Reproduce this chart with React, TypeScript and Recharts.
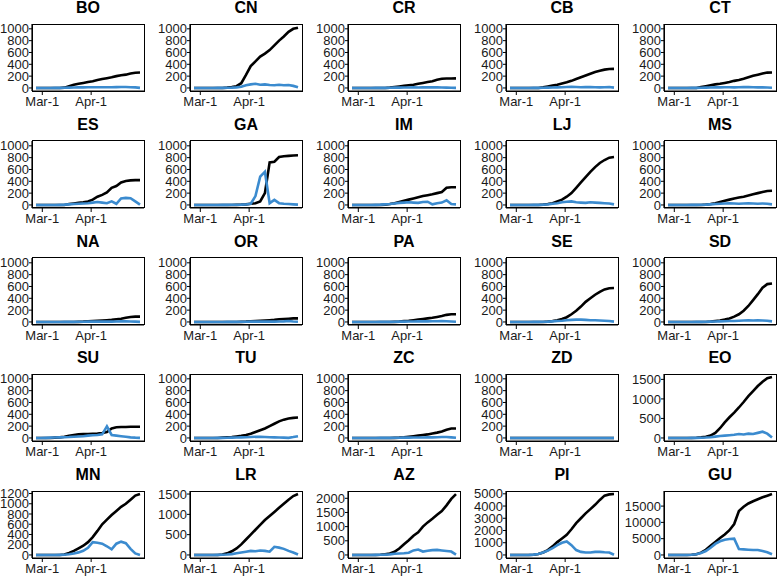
import React from "react";
import { LineChart, Line, XAxis, YAxis } from "recharts";

// day offsets from Mar-1, one sample every 3 days
const days = [-4, -1, 2, 5, 8, 11, 14, 17, 20, 23, 26, 29, 32, 35, 38, 41, 44, 47, 50, 53, 56, 59, 62];
const xTicks = [0, 31];
const xTickLabels = ["Mar-1", "Apr-1"];

const ticks1000 = [0, 200, 400, 600, 800, 1000];
const ticks1200 = [0, 200, 400, 600, 800, 1000, 1200];
const ticks1500 = [0, 500, 1000, 1500];
const ticks2000 = [0, 500, 1000, 1500, 2000];
const ticks5000 = [0, 1000, 2000, 3000, 4000, 5000];
const ticks15000 = [0, 5000, 10000, 15000];

const boTotal = [0, 0, 0, 0, 0, 0, 5, 30, 55, 70, 85, 100, 115, 135, 150, 165, 180, 200, 215, 225, 245, 258, 262];
const boDaily = [0, 0, 0, 0, 1, 2, 3, 5, 8, 10, 10, 12, 12, 13, 12, 12, 12, 14, 15, 15, 13, 10, 2];
const cnTotal = [0, 0, 0, 0, 0, 0, 0, 5, 15, 30, 80, 220, 370, 450, 530, 580, 640, 720, 800, 870, 950, 1000, 1020];
const cnDaily = [0, 0, 0, 0, 0, 1, 2, 3, 5, 10, 20, 45, 60, 70, 55, 60, 50, 45, 55, 45, 50, 35, 10];
const crTotal = [0, 0, 0, 0, 0, 0, 0, 0, 5, 15, 25, 35, 45, 55, 70, 85, 100, 115, 140, 155, 160, 160, 162];
const crDaily = [0, 0, 0, 0, 0, 1, 1, 2, 3, 5, 6, 8, 8, 9, 8, 10, 10, 12, 10, 8, 6, 4, 2];
const cbTotal = [0, 0, 0, 0, 0, 0, 0, 10, 25, 40, 55, 75, 95, 120, 150, 180, 210, 240, 270, 290, 310, 320, 322];
const cbDaily = [0, 0, 0, 0, 0, 1, 2, 4, 6, 8, 10, 12, 15, 18, 15, 12, 14, 15, 12, 10, 12, 15, 5];
const ctTotal = [0, 0, 0, 0, 0, 0, 0, 15, 30, 45, 60, 70, 85, 100, 120, 135, 155, 180, 205, 225, 245, 260, 262];
const ctDaily = [0, 0, 0, 0, 0, 1, 2, 4, 6, 8, 10, 10, 12, 12, 10, 12, 14, 15, 12, 10, 10, 8, 3];

const esTotal = [0, 0, 0, 0, 0, 0, 0, 15, 25, 35, 45, 60, 90, 140, 170, 210, 290, 320, 380, 405, 415, 420, 420];
const esDaily = [0, 0, 0, 0, 0, 2, 5, 10, 15, 20, 25, 30, 40, 50, 40, 30, 60, 20, 110, 120, 115, 60, 5];
const gaTotal = [0, 0, 0, 0, 0, 0, 0, 0, 0, 2, 5, 10, 20, 30, 60, 200, 720, 730, 810, 825, 830, 835, 840];
const gaDaily = [0, 0, 0, 0, 0, 0, 1, 2, 3, 4, 5, 8, 20, 150, 480, 560, 30, 85, 30, 20, 15, 10, 5];
const imTotal = [0, 0, 0, 0, 0, 0, 0, 5, 15, 30, 50, 70, 90, 110, 130, 150, 165, 180, 200, 220, 290, 300, 300];
const imDaily = [0, 0, 0, 0, 0, 2, 5, 10, 15, 25, 35, 40, 45, 40, 35, 50, 55, 10, 30, 40, 80, 15, 10];
const ljTotal = [0, 0, 0, 0, 0, 0, 0, 5, 15, 30, 60, 90, 140, 200, 290, 380, 470, 560, 640, 710, 760, 800, 810];
const ljDaily = [0, 0, 0, 0, 0, 1, 2, 5, 10, 20, 30, 45, 55, 60, 45, 40, 35, 45, 40, 35, 30, 25, 10];
const msTotal = [0, 0, 0, 0, 0, 0, 0, 0, 5, 15, 30, 50, 70, 90, 110, 125, 140, 160, 180, 200, 220, 235, 240];
const msDaily = [0, 0, 0, 0, 0, 1, 2, 3, 5, 10, 15, 20, 25, 30, 25, 20, 25, 30, 25, 20, 25, 20, 10];

const naTotal = [0, 0, 0, 0, 0, 0, 0, 0, 0, 2, 5, 10, 15, 20, 25, 30, 35, 45, 55, 70, 85, 90, 90];
const naDaily = [0, 0, 0, 0, 0, 0, 1, 1, 2, 3, 4, 5, 5, 6, 5, 5, 6, 8, 10, 10, 8, 5, 2];
const orTotal = [0, 0, 0, 0, 0, 0, 0, 0, 0, 0, 2, 5, 10, 15, 20, 25, 30, 35, 45, 50, 55, 60, 60];
const orDaily = [0, 0, 0, 0, 0, 0, 0, 1, 1, 2, 3, 4, 5, 5, 5, 5, 5, 6, 8, 10, 15, 8, 3];
const paTotal = [0, 0, 0, 0, 0, 0, 0, 0, 0, 2, 5, 15, 20, 30, 40, 50, 60, 70, 85, 100, 120, 130, 130];
const paDaily = [0, 0, 0, 0, 0, 0, 1, 1, 2, 3, 5, 6, 8, 8, 10, 10, 10, 12, 12, 15, 12, 8, 3];
const seTotal = [0, 0, 0, 0, 0, 0, 0, 0, 5, 15, 30, 50, 80, 130, 190, 260, 340, 400, 460, 510, 550, 570, 575];
const seDaily = [0, 0, 0, 0, 0, 1, 2, 3, 5, 10, 15, 20, 30, 35, 40, 40, 35, 30, 30, 25, 20, 15, 5];
const sdTotal = [0, 0, 0, 0, 0, 0, 0, 0, 0, 5, 15, 25, 40, 60, 90, 130, 190, 270, 370, 470, 580, 640, 650];
const sdDaily = [0, 0, 0, 0, 0, 0, 1, 2, 3, 5, 8, 10, 12, 15, 15, 20, 25, 30, 25, 30, 25, 20, 10];

const suTotal = [0, 0, 0, 0, 5, 10, 20, 35, 50, 60, 65, 65, 70, 75, 85, 100, 160, 180, 185, 185, 190, 190, 190];
const suDaily = [0, 0, 2, 5, 8, 10, 12, 15, 20, 25, 30, 40, 45, 50, 60, 195, 50, 40, 30, 20, 10, 5, 2];
const tuTotal = [0, 0, 0, 0, 0, 0, 5, 10, 15, 25, 35, 50, 70, 100, 130, 160, 200, 240, 280, 310, 330, 340, 345];
const tuDaily = [0, 0, 0, 0, 0, 1, 2, 4, 6, 8, 10, 12, 15, 20, 18, 15, 12, 10, 8, 5, 2, 15, 30];
const zcTotal = [0, 0, 0, 0, 0, 0, 0, 0, 0, 2, 5, 10, 20, 30, 40, 50, 60, 75, 90, 110, 140, 160, 160];
const zcDaily = [0, 0, 0, 0, 0, 0, 1, 1, 2, 3, 4, 5, 6, 8, 8, 8, 10, 10, 12, 15, 15, 10, 3];
const zdTotal = [0, 0, 0, 0, 0, 0, 0, 0, 0, 0, 0, 0, 0, 0, 0, 0, 0, 0, 0, 0, 0, 0, 0];
const zdDaily = [0, 0, 0, 0, 0, 0, 0, 0, 0, 0, 0, 0, 0, 0, 0, 0, 0, 0, 0, 0, 0, 0, 0];
const eoTotal = [0, 0, 0, 0, 0, 0, 5, 15, 30, 60, 130, 250, 400, 530, 650, 780, 920, 1070, 1200, 1330, 1440, 1530, 1560];
const eoDaily = [0, 0, 0, 0, 0, 1, 3, 5, 10, 20, 35, 50, 60, 70, 80, 100, 90, 110, 100, 130, 160, 110, 10];

const mnTotal = [0, 0, 0, 0, 0, 0, 10, 40, 80, 130, 180, 250, 350, 470, 600, 690, 780, 860, 940, 1000, 1080, 1160, 1190];
const mnDaily = [0, 0, 0, 0, 0, 2, 5, 15, 30, 50, 80, 140, 250, 240, 220, 170, 110, 220, 260, 230, 120, 30, 0];
const lrTotal = [0, 0, 0, 0, 0, 0, 10, 40, 90, 160, 260, 380, 500, 620, 740, 860, 960, 1060, 1160, 1260, 1360, 1450, 1500];
const lrDaily = [0, 0, 0, 0, 0, 2, 5, 10, 20, 40, 60, 80, 100, 90, 110, 100, 80, 200, 180, 150, 100, 60, 10];
const azTotal = [0, 0, 0, 0, 0, 0, 5, 20, 50, 110, 230, 380, 520, 680, 800, 1000, 1150, 1280, 1420, 1550, 1750, 1980, 2150];
const azDaily = [0, 0, 0, 0, 0, 2, 5, 10, 20, 40, 50, 60, 80, 160, 190, 120, 150, 170, 180, 160, 140, 120, 10];
const piTotal = [0, 0, 0, 0, 0, 20, 80, 200, 400, 700, 1050, 1350, 1650, 2100, 2600, 3000, 3400, 3750, 4100, 4500, 4850, 4950, 4980];
const piDaily = [0, 0, 0, 0, 10, 30, 80, 200, 350, 550, 800, 1000, 1100, 800, 400, 250, 200, 200, 250, 250, 220, 200, 20];
const guTotal = [0, 0, 0, 0, 0, 50, 200, 700, 1600, 2800, 4000, 5200, 6300, 7600, 9500, 13500, 14800, 15800, 16500, 17100, 17700, 18200, 18700];
const guDaily = [0, 0, 0, 0, 0, 50, 200, 600, 1200, 2200, 3400, 4200, 4700, 4900, 5000, 1800, 1700, 1600, 1500, 1500, 1200, 800, 200];

// top = largest value the panel's y range has to hold
const panels = [
  { name: "BO", total: boTotal, daily: boDaily, ticks: ticks1000, top: 1030 },
  { name: "CN", total: cnTotal, daily: cnDaily, ticks: ticks1000, top: 1030 },
  { name: "CR", total: crTotal, daily: crDaily, ticks: ticks1000, top: 1030 },
  { name: "CB", total: cbTotal, daily: cbDaily, ticks: ticks1000, top: 1030 },
  { name: "CT", total: ctTotal, daily: ctDaily, ticks: ticks1000, top: 1030 },
  { name: "ES", total: esTotal, daily: esDaily, ticks: ticks1000, top: 1030 },
  { name: "GA", total: gaTotal, daily: gaDaily, ticks: ticks1000, top: 1030 },
  { name: "IM", total: imTotal, daily: imDaily, ticks: ticks1000, top: 1030 },
  { name: "LJ", total: ljTotal, daily: ljDaily, ticks: ticks1000, top: 1030 },
  { name: "MS", total: msTotal, daily: msDaily, ticks: ticks1000, top: 1030 },
  { name: "NA", total: naTotal, daily: naDaily, ticks: ticks1000, top: 1030 },
  { name: "OR", total: orTotal, daily: orDaily, ticks: ticks1000, top: 1030 },
  { name: "PA", total: paTotal, daily: paDaily, ticks: ticks1000, top: 1030 },
  { name: "SE", total: seTotal, daily: seDaily, ticks: ticks1000, top: 1030 },
  { name: "SD", total: sdTotal, daily: sdDaily, ticks: ticks1000, top: 1030 },
  { name: "SU", total: suTotal, daily: suDaily, ticks: ticks1000, top: 1030 },
  { name: "TU", total: tuTotal, daily: tuDaily, ticks: ticks1000, top: 1030 },
  { name: "ZC", total: zcTotal, daily: zcDaily, ticks: ticks1000, top: 1030 },
  { name: "ZD", total: zdTotal, daily: zdDaily, ticks: ticks1000, top: 1030 },
  { name: "EO", total: eoTotal, daily: eoDaily, ticks: ticks1500, top: 1560 },
  { name: "MN", total: mnTotal, daily: mnDaily, ticks: ticks1200, top: 1190 },
  { name: "LR", total: lrTotal, daily: lrDaily, ticks: ticks1500, top: 1500 },
  { name: "AZ", total: azTotal, daily: azDaily, ticks: ticks2000, top: 2150 },
  { name: "PI", total: piTotal, daily: piDaily, ticks: ticks5000, top: 4980 },
  { name: "GU", total: guTotal, daily: guDaily, ticks: ticks15000, top: 18700 },
];

const FONT = "'Liberation Sans', Arial, sans-serif";
const INK = "#1a1a1a";
const BLUE = "#3b8bcf";
const COL_STEP = 158;
const ROW_STEP = 116.8;

type PanelProps = { name: string; total: number[]; daily: number[]; ticks: number[]; top: number };

const Panel: React.FC<PanelProps & { col: number; row: number }> = ({ name, total, daily, ticks, top, col, row }) => {
  const data = days.map((d, i) => ({ day: d, total: total[i], daily: daily[i] }));
  const left = col * COL_STEP;
  const y = row * ROW_STEP;
  return (
    <>
      <div
        style={{
          position: "absolute",
          left: left + 32,
          top: y,
          width: 112,
          textAlign: "center",
          fontWeight: "bold",
          fontSize: 16,
          lineHeight: "16px",
          color: "#000",
        }}
      >
        {name}
      </div>
      <div style={{ position: "absolute", left: left - 16, top: y }}>
        <LineChart width={164} height={112} data={data} margin={{ top: 24, right: 4, bottom: 0, left: 0 }}>
          <XAxis
            dataKey="day"
            type="number"
            domain={[-4, 62]}
            ticks={xTicks}
            tickFormatter={(v) => xTickLabels[xTicks.indexOf(v)]}
            padding={{ left: 4, right: 4 }}
            height={21}
            tickSize={4}
            tickMargin={2}
            interval={0}
            axisLine={{ stroke: "#000", strokeWidth: 1.2 }}
            tickLine={{ stroke: "#000" }}
            tick={{ fontSize: 13, fill: INK, fontFamily: FONT }}
          />
          <YAxis
            type="number"
            domain={[-0.05 * top, 1.05 * top]}
            ticks={ticks}
            interval={0}
            width={48}
            tickSize={3}
            tickMargin={0}
            axisLine={{ stroke: "#000", strokeWidth: 1.2 }}
            tickLine={{ stroke: "#000" }}
            tick={{ fontSize: 13, fill: INK, fontFamily: FONT }}
          />
          <Line dataKey="total" stroke="#000" strokeWidth={2.6} dot={false} isAnimationActive={false} />
          <Line dataKey="daily" stroke={BLUE} strokeWidth={2.6} dot={false} isAnimationActive={false} />
        </LineChart>
      </div>
      {/* panel frame */}
      <div
        style={{
          position: "absolute",
          left: left + 31.5,
          top: y + 23.5,
          width: 113,
          height: 68,
          boxSizing: "border-box",
          border: "1.2px solid #000",
          pointerEvents: "none",
        }}
      />
    </>
  );
};

export default function App() {
  return (
    <div
      style={{
        position: "fixed",
        left: 0,
        top: 0,
        width: 778,
        height: 581,
        overflow: "hidden",
        background: "#fff",
        fontFamily: FONT,
      }}
    >
      {panels.map((p, i) => (
        <Panel key={p.name} {...p} col={i % 5} row={Math.floor(i / 5)} />
      ))}
    </div>
  );
}
